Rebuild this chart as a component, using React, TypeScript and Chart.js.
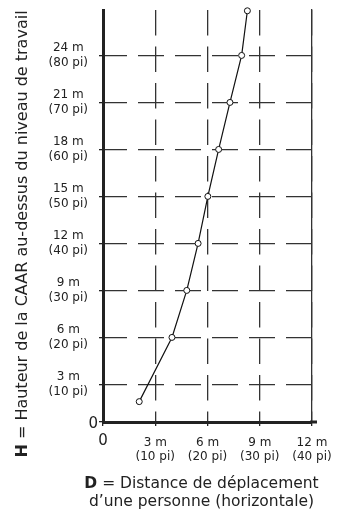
import { useEffect, useRef } from "react";
import { Chart, registerables } from "chart.js";

Chart.register(...registerables);

// ---- data ----
const distanceM = [2.08, 3.96, 4.81, 5.46, 6.02, 6.64, 7.29, 7.96, 8.29];
const heightM = [1.9, 6, 9, 12, 15, 18, 21, 24, 26.85];

const xTickValues = [0, 3, 6, 9, 12];
const xTickLabels = [[""], ["3 m", "(10 pi)"], ["6 m", "(20 pi)"], ["9 m", "(30 pi)"], ["12 m", "(40 pi)"]];
const yTickValues = [3, 6, 9, 12, 15, 18, 21, 24];
const yTickLabels = [
  ["3 m", "(10 pi)"],
  ["6 m", "(20 pi)"],
  ["9 m", "(30 pi)"],
  ["12 m", "(40 pi)"],
  ["15 m", "(50 pi)"],
  ["18 m", "(60 pi)"],
  ["21 m", "(70 pi)"],
  ["24 m", "(80 pi)"],
];
const originLabel = "0";
const yTitleBold = "H";
const yTitleRest = " = Hauteur de la CAAR au-dessus du niveau de travail";
const xTitleBold = "D";
const xTitleRest = " = Distance de déplacement";
const xTitleLine2 = "d’une personne (horizontale)";

const X_MIN = 0;
const X_MAX = 12;
const Y_MIN = 0.6;
const Y_MAX = 26.9;

const FONT = "'DejaVu Sans', Verdana, sans-serif";
const TEXT = "#222";
const GRID = "#333";

const titlesPlugin = {
  id: "titlesPlugin",
  afterDraw(chart: any) {
    const ctx = chart.ctx as CanvasRenderingContext2D;
    const xs = chart.scales.x;
    const ys = chart.scales.y;
    ctx.save();
    ctx.fillStyle = TEXT;

    // origin labels
    ctx.font = `15px ${FONT}`;
    ctx.textBaseline = "alphabetic";
    ctx.textAlign = "right";
    ctx.fillText(originLabel, xs.getPixelForValue(X_MIN) - 5, ys.getPixelForValue(Y_MIN) + 5.5);
    ctx.textAlign = "center";
    ctx.fillText(originLabel, xs.getPixelForValue(X_MIN), ys.getPixelForValue(Y_MIN) + 23);

    // y title (rotated)
    const yFontB = `bold 16px ${FONT}`;
    const yFontN = `16px ${FONT}`;
    ctx.font = yFontB;
    const wB = ctx.measureText(yTitleBold).width;
    ctx.font = yFontN;
    const wN = ctx.measureText(yTitleRest).width;
    const cy = (ys.getPixelForValue(Y_MIN) + ys.getPixelForValue(Y_MAX)) / 2 + 18;
    ctx.save();
    ctx.translate(26.5, cy);
    ctx.rotate(-Math.PI / 2);
    ctx.textAlign = "left";
    const start = -(wB + wN) / 2;
    ctx.font = yFontB;
    ctx.fillText(yTitleBold, start, 0);
    ctx.font = yFontN;
    ctx.fillText(yTitleRest, start + wB, 0);
    ctx.restore();

    // x title (two lines)
    const cx = (xs.getPixelForValue(X_MIN) + xs.getPixelForValue(X_MAX)) / 2 - 6;
    ctx.font = `bold 15.5px ${FONT}`;
    const xB = ctx.measureText(xTitleBold).width;
    ctx.font = `15.5px ${FONT}`;
    const xN = ctx.measureText(xTitleRest).width;
    const sx = cx - (xB + xN) / 2;
    ctx.textAlign = "left";
    ctx.font = `bold 15.5px ${FONT}`;
    ctx.fillText(xTitleBold, sx, 488);
    ctx.font = `15.5px ${FONT}`;
    ctx.fillText(xTitleRest, sx + xB, 488);
    ctx.textAlign = "center";
    ctx.fillText(xTitleLine2, cx, 506);

    // x axis line extension beyond the last tick
    ctx.strokeStyle = "#222";
    ctx.lineWidth = 3;
    ctx.beginPath();
    const ay = ys.getPixelForValue(Y_MIN);
    ctx.moveTo(xs.getPixelForValue(X_MAX) - 2, ay);
    ctx.lineTo(xs.getPixelForValue(X_MAX) + 5, ay);
    ctx.stroke();
    ctx.restore();
  },
};

export default function App() {
  const ref = useRef<HTMLCanvasElement | null>(null);

  useEffect(() => {
    if (!ref.current) return;
    const points = distanceM.map((d, i) => ({ x: d, y: heightM[i] }));
    const chart = new Chart(ref.current, {
      type: "line",
      data: {
        datasets: [
          {
            data: points,
            borderColor: "#111",
            borderWidth: 1.2,
            pointRadius: 3,
            pointBackgroundColor: "#fff",
            pointBorderColor: "#111",
            pointBorderWidth: 1,
            tension: 0,
            clip: false as any,
          },
        ],
      },
      options: {
        responsive: false,
        animation: false,
        layout: { padding: { left: 0, top: 10, right: 52, bottom: 0 } },
        plugins: { legend: { display: false }, tooltip: { enabled: false }, title: { display: false } },
        scales: {
          x: {
            type: "linear",
            min: X_MIN,
            max: X_MAX,
            afterBuildTicks: (s: any) => {
              s.ticks = xTickValues.map((v) => ({ value: v }));
            },
            afterFit: (s: any) => {
              s.height = 95;
              s.paddingLeft = 0;
              s.paddingRight = 0;
            },
            ticks: {
              autoSkip: false,
              maxRotation: 0,
              padding: 10,
              color: TEXT,
              font: { family: FONT, size: 12, lineHeight: 1.17 },
              callback: (v: any) => {
                const i = xTickValues.indexOf(Number(v));
                return i >= 0 ? xTickLabels[i] : "";
              },
            },
            grid: {
              color: GRID,
              lineWidth: 1.3,
              tickLength: 4,
              tickColor: "#222",
              tickWidth: 1.3,
            },
            border: { display: true, color: "#222", width: 3, dash: [25.5, 11], dashOffset: 0 },
          },
          y: {
            type: "linear",
            min: Y_MIN,
            max: Y_MAX,
            afterBuildTicks: (s: any) => {
              s.ticks = [Y_MIN, ...yTickValues].map((v) => ({ value: v }));
            },
            afterFit: (s: any) => {
              s.width = 103;
              s.paddingTop = 0;
              s.paddingBottom = 0;
            },
            ticks: {
              autoSkip: false,
              crossAlign: "center",
              padding: 11,
              color: TEXT,
              font: { family: FONT, size: 12, lineHeight: 1.25 },
              callback: (v: any) => {
                const i = yTickValues.indexOf(Number(v));
                return i >= 0 ? yTickLabels[i] : "";
              },
            },
            grid: {
              color: GRID,
              lineWidth: 1.3,
              tickLength: 4,
              tickColor: "#222",
              tickWidth: 1.3,
            },
            border: { display: true, color: "#222", width: 3, dash: [26, 11], dashOffset: 4 },
          },
          yRight: {
            type: "linear",
            position: "right",
            display: true,
            afterFit: (s: any) => {
              s.width = 0;
              s.paddingTop = 0;
              s.paddingBottom = 0;
            },
            ticks: { display: false },
            grid: { drawOnChartArea: false, drawTicks: false },
            border: { display: true, color: "#333", width: 1.3 },
          },
        },
      },
      plugins: [titlesPlugin],
    } as any);
    return () => chart.destroy();
  }, []);

  return (
    <div style={{ position: "absolute", left: 0, top: 0, width: 364, height: 517, background: "#fff" }}>
      <canvas ref={ref} width={364} height={517} style={{ display: "block" }} />
    </div>
  );
}
